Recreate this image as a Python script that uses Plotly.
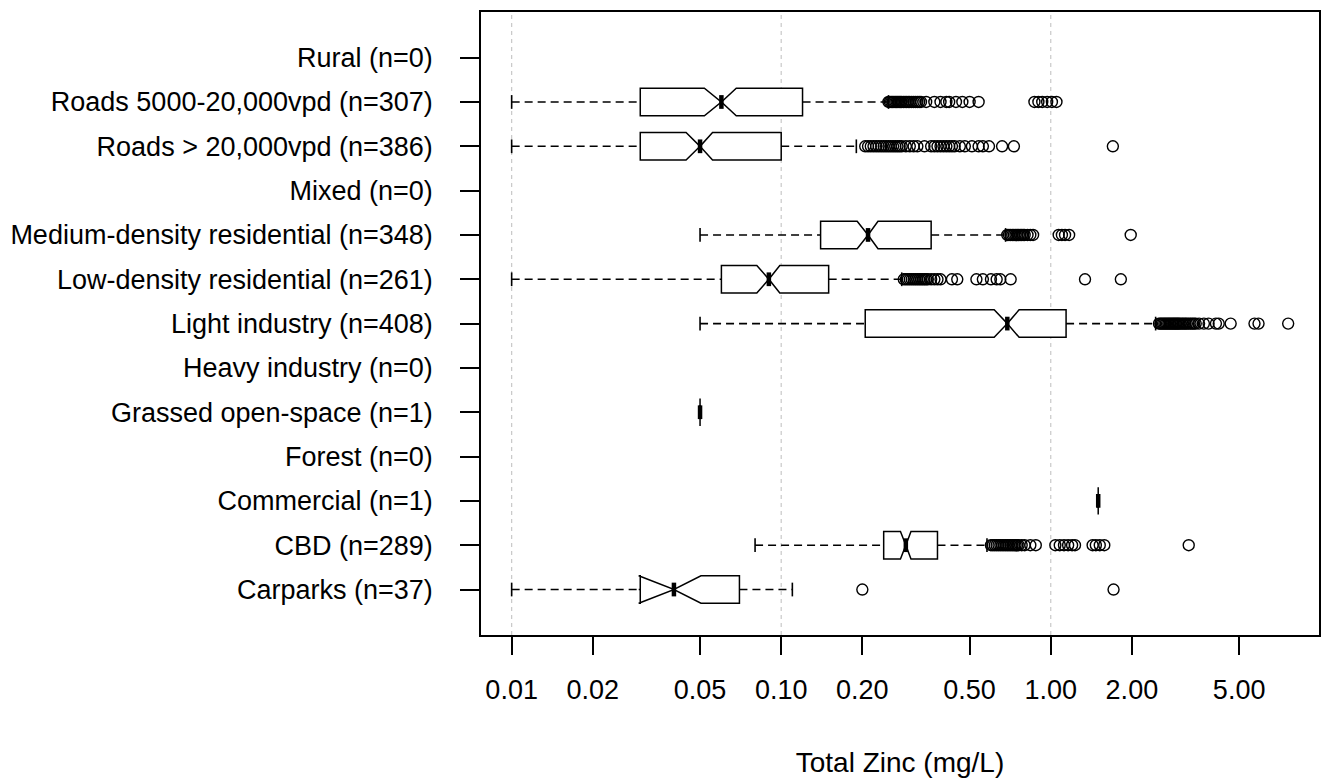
import math
import plotly.graph_objects as go

# ---------------- data (bottom to top) ----------------
names = ["Carparks", "CBD", "Commercial", "Forest", "Grassed open-space",
         "Heavy industry", "Light industry", "Low-density residential",
         "Medium-density residential", "Mixed", "Roads > 20,000vpd",
         "Roads 5000-20,000vpd", "Rural"]
counts = [37, 289, 1, 0, 1, 0, 408, 261, 348, 0, 386, 307, 0]

lower_whisker = [0.01, 0.08, 1.5, None, 0.05, None, 0.05, 0.01, 0.05, None, 0.01, 0.01, None]
q1_vals       = [0.03, 0.24, 1.5, None, 0.05, None, 0.205, 0.06, 0.14, None, 0.03, 0.03, None]
median_vals   = [0.04, 0.29, 1.5, None, 0.05, None, 0.69, 0.09, 0.21, None, 0.05, 0.06, None]
q3_vals       = [0.07, 0.38, 1.5, None, 0.05, None, 1.14, 0.15, 0.36, None, 0.10, 0.12, None]
upper_whisker = [0.11, 0.58, 1.5, None, 0.05, None, 2.45, 0.28, 0.68, None, 0.19, 0.25, None]

out_carparks = [0.20, 1.71]
out_cbd = [0.60, 0.61, 0.62, 0.63, 0.64, 0.65, 0.66, 0.67, 0.68, 0.69, 0.70, 0.71,
           0.72, 0.73, 0.74, 0.75, 0.76, 0.78, 0.80, 0.84, 0.88,
           1.04, 1.08, 1.12, 1.16, 1.20, 1.23, 1.43, 1.47, 1.52, 1.58, 3.25]
out_light = [2.52, 2.55, 2.58, 2.61, 2.64, 2.67, 2.70, 2.73, 2.76, 2.79, 2.82, 2.85,
             2.88, 2.91, 2.94, 2.97, 3.00, 3.04, 3.08, 3.12, 3.16, 3.20, 3.25, 3.30,
             3.35, 3.40, 3.45, 3.55, 3.70, 3.85, 4.10, 4.20, 4.65, 5.70, 5.90, 7.60]
out_low = [0.285, 0.29, 0.295, 0.30, 0.305, 0.31, 0.315, 0.32, 0.325, 0.33, 0.335,
           0.34, 0.345, 0.35, 0.36, 0.37, 0.38, 0.39, 0.43, 0.45, 0.53, 0.56, 0.60,
           0.63, 0.65, 0.71, 1.34, 1.82]
out_medium = [0.69, 0.70, 0.71, 0.72, 0.73, 0.74, 0.75, 0.76, 0.77, 0.78, 0.79, 0.80,
              0.82, 0.84, 0.86, 1.07, 1.10, 1.13, 1.17, 1.98]
out_roads_hi = [0.205, 0.21, 0.215, 0.22, 0.225, 0.23, 0.235, 0.24, 0.245, 0.25,
                0.255, 0.26, 0.265, 0.27, 0.275, 0.28, 0.29, 0.30, 0.31, 0.32, 0.34,
                0.36, 0.37, 0.38, 0.39, 0.40, 0.41, 0.42, 0.43, 0.44, 0.46, 0.48,
                0.51, 0.54, 0.56, 0.59, 0.66, 0.73, 1.70]
out_roads_mid = [0.25, 0.253, 0.256, 0.259, 0.262, 0.265, 0.268, 0.271, 0.274, 0.277,
                 0.28, 0.284, 0.288, 0.292, 0.296, 0.30, 0.305, 0.31, 0.315, 0.32,
                 0.325, 0.33, 0.345, 0.37, 0.39, 0.41, 0.42, 0.445, 0.47, 0.50, 0.54,
                 0.87, 0.90, 0.93, 0.97, 1.01, 1.05]

outliers = [out_carparks, out_cbd, [], [], [], [], out_light, out_low,
            out_medium, [], out_roads_hi, out_roads_mid, []]

x_tickvals = [0.01, 0.02, 0.05, 0.1, 0.2, 0.5, 1, 2, 5]
x_ticktext = ["0.01", "0.02", "0.05", "0.10", "0.20", "0.50", "1.00", "2.00", "5.00"]
grid_vals = [0.01, 0.1, 1]
x_title = "Total Zinc (mg/L)"

# ---------------- figure ----------------
FONT = "Liberation Sans, Arial, sans-serif"
BOXW = 0.62
HALF_NOTCH = BOXW / 4
labels = [f"{n} (n={c})" for n, c in zip(names, counts)]

fig = go.Figure()
for k in range(len(names)):
    if counts[k] == 0:
        continue
    iqr = q3_vals[k] - q1_vals[k]
    ns = 1.58 * iqr / math.sqrt(counts[k])
    fig.add_trace(go.Box(
        y=[k], q1=[q1_vals[k]], median=[median_vals[k]], q3=[q3_vals[k]],
        lowerfence=[q1_vals[k]], upperfence=[q3_vals[k]], notchspan=[ns],
        notched=True, notchwidth=0.5, orientation="h", width=BOXW,
        whiskerwidth=0, boxpoints=False, fillcolor="white",
        line=dict(color="black", width=1.5), hoverinfo="skip"))
    # whiskers (dashed)
    for a, b in ((lower_whisker[k], q1_vals[k]), (q3_vals[k], upper_whisker[k])):
        if b > a:
            fig.add_trace(go.Scatter(x=[a, b], y=[k, k], mode="lines",
                                     line=dict(color="black", width=1.6, dash="8px,5px"),
                                     hoverinfo="skip"))
    # staples
    for w in (lower_whisker[k], upper_whisker[k]):
        fig.add_trace(go.Scatter(x=[w, w], y=[k - HALF_NOTCH, k + HALF_NOTCH], mode="lines",
                                 line=dict(color="black", width=1.6), hoverinfo="skip"))
    # thick median
    fig.add_trace(go.Scatter(x=[median_vals[k]] * 2, y=[k - HALF_NOTCH, k + HALF_NOTCH],
                             mode="lines", line=dict(color="black", width=4.5),
                             hoverinfo="skip"))
    if outliers[k]:
        fig.add_trace(go.Scatter(x=outliers[k], y=[k] * len(outliers[k]), mode="markers",
                                 marker=dict(symbol="circle-open", size=11, color="black",
                                             line=dict(width=1.4, color="black")),
                                 hoverinfo="skip"))

for g in grid_vals:
    fig.add_shape(type="line", xref="x", yref="paper", x0=g, x1=g, y0=0, y1=1,
                  line=dict(color="#c8c8c8", width=1.2, dash="4px,4px"), layer="below")

fig.update_layout(
    width=1324, height=783,
    margin=dict(l=481, r=3, t=12, b=148, pad=0),
    paper_bgcolor="white", plot_bgcolor="white",
    showlegend=False,
    font=dict(family=FONT, size=27, color="black"),
)
fig.update_xaxes(
    type="log", range=[-2.1137, 0.9952],
    tickmode="array", tickvals=x_tickvals, ticktext=x_ticktext,
    ticks="outside", ticklen=18, tickwidth=1.5, tickcolor="black",
    showgrid=False, zeroline=False,
    showline=True, mirror=True, linecolor="black", linewidth=1.5,
    tickfont=dict(family=FONT, size=27, color="black"),
    ticklabelstandoff=12,
    title=dict(text=x_title, font=dict(family=FONT, size=28, color="black"), standoff=48),
)
fig.update_yaxes(
    range=[-1.026, 13.03],
    tickmode="array", tickvals=list(range(len(labels))), ticktext=labels,
    ticks="outside", ticklen=19, tickwidth=1.5, tickcolor="black",
    showgrid=False, zeroline=False,
    showline=True, mirror=True, linecolor="black", linewidth=1.5,
    tickfont=dict(family=FONT, size=27, color="black"),
    ticklabelstandoff=22,
)

fig.write_html("out.html")
